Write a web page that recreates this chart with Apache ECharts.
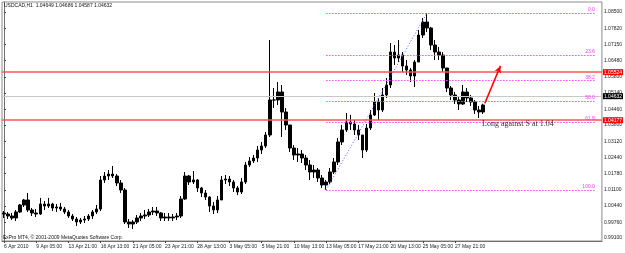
<!DOCTYPE html>
<html><head><meta charset="utf-8">
<script src="https://cdn.jsdelivr.net/npm/echarts@6/dist/echarts.min.js"></script>
<style>html,body{margin:0;padding:0;background:#fff}#c{width:625px;height:253px}</style>
</head><body><div id="c"></div>
<script>
// ---- data (8-hour aggregated USDCAD H1 bars) ----
const xTickLabels = ["6 Apr 2010","9 Apr 05:00","13 Apr 21:00","16 Apr 13:00","21 Apr 05:00","23 Apr 21:00","28 Apr 13:00","3 May 05:00","5 May 21:00","10 May 13:00","13 May 05:00","17 May 21:00","20 May 13:00","25 May 05:00","27 May 21:00"];
const yTickValues = [0.99100,0.99760,1.00440,1.01100,1.01780,1.02440,1.03120,1.03800,1.04460,1.05140,1.05800,1.06480,1.07150,1.07820,1.08500];
const firstOpen = 1.00140;
const highs = [1.00223,1.00182,1.00140,1.00265,1.00514,1.00723,1.00972,1.00348,1.00306,1.00764,
1.00639,1.00764,1.00556,1.00514,1.00556,1.00390,1.00265,1.00098,0.99974,0.99932,
1.00015,1.00098,1.00265,1.00473,1.01679,1.01846,1.01929,1.02095,1.01762,1.01513,
1.01180,0.99890,0.99849,1.00057,1.00140,1.00265,1.00306,1.00390,1.00390,1.00182,
1.00140,1.00140,1.00098,1.00140,1.00847,1.01846,1.01721,1.01887,1.01554,1.01222,
1.01097,1.00830,1.00598,1.00847,1.01679,1.01721,1.01679,1.01513,1.01263,1.01596,
1.02262,1.02470,1.02553,1.02927,1.03094,1.03510,1.07337,1.05340,1.05590,1.05465,
1.04508,1.03801,1.02969,1.02844,1.02761,1.02553,1.02345,1.02137,1.02012,1.01721,
1.01513,1.02012,1.02428,1.03260,1.03801,1.04300,1.04217,1.04009,1.03801,1.03385,
1.03842,1.04425,1.05132,1.04924,1.05340,1.05756,1.07212,1.07129,1.07337,1.06838,
1.06505,1.06172,1.06505,1.07753,1.08252,1.08450,1.07880,1.07337,1.07046,1.06838,
1.06172,1.05423,1.05174,1.05007,1.05465,1.05340,1.05049,1.04841,1.04591,1.04686];
const lows = [0.99932,0.99890,0.99849,0.99807,1.00140,1.00390,1.00182,1.00015,0.99974,1.00057,
1.00265,1.00348,1.00223,1.00182,1.00223,1.00098,0.99932,0.99807,0.99599,0.99682,
0.99724,0.99807,0.99890,1.00098,1.00223,1.01388,1.01513,1.01596,1.01263,1.00972,
0.99682,0.99516,0.99474,0.99682,0.99807,0.99890,0.99974,1.00057,1.00015,0.99807,
0.99807,0.99807,0.99807,0.99849,0.99932,1.00681,1.01305,1.01346,1.01014,1.00806,
1.00681,1.00182,1.00098,1.00140,1.00681,1.01346,1.01263,1.01014,1.00889,1.00930,
1.01346,1.02054,1.02220,1.02262,1.02594,1.02844,1.03300,1.04508,1.04633,1.03302,
1.03593,1.02678,1.02345,1.02262,1.02220,1.01929,1.01513,1.01596,1.01430,1.01180,
1.01100,1.01346,1.01762,1.02137,1.02969,1.03510,1.03593,1.03385,1.03177,1.02428,
1.02678,1.03593,1.04175,1.04009,1.04342,1.04924,1.05340,1.06297,1.06422,1.06006,
1.05881,1.05590,1.05382,1.06422,1.07420,1.07670,1.06921,1.06505,1.06505,1.06006,
1.05174,1.04841,1.04674,1.04425,1.04633,1.04758,1.04591,1.04259,1.04092,1.04259];
const closes = [1.00098,1.00015,0.99932,1.00182,1.00473,1.00681,1.00265,1.00140,1.00098,1.00514,
1.00431,1.00514,1.00348,1.00390,1.00306,1.00182,1.00015,0.99890,0.99766,0.99849,
0.99890,1.00015,1.00182,1.00306,1.01513,1.01679,1.01762,1.01679,1.01388,1.01097,
0.99766,0.99682,0.99766,0.99932,1.00015,1.00057,1.00182,1.00223,1.00140,0.99932,
0.99974,0.99932,0.99974,1.00015,1.00723,1.01679,1.01430,1.01513,1.01180,1.00972,
1.00806,1.00431,1.00265,1.00681,1.01513,1.01554,1.01430,1.01180,1.01014,1.01430,
1.02137,1.02303,1.02428,1.02761,1.02927,1.03385,1.04841,1.04841,1.05174,1.04342,
1.03801,1.02844,1.02553,1.02594,1.02428,1.02137,1.01846,1.01929,1.01596,1.01305,
1.01430,1.01846,1.02262,1.03094,1.03593,1.03926,1.03842,1.03593,1.03385,1.02761,
1.03676,1.04217,1.04758,1.04425,1.05049,1.05465,1.06838,1.06588,1.06713,1.06255,
1.06089,1.05839,1.06422,1.07545,1.08086,1.07836,1.07129,1.06838,1.06713,1.06172,
1.05340,1.05049,1.04841,1.04674,1.05174,1.04924,1.04758,1.04425,1.04342,1.04632];
const fibLevels = [1.08450,1.06715,1.05642,1.04775,1.03908,1.01100];
const fibNames = ["0.0","23.6","38.2","50.0","61.8","100.0"];
const redLevels = [1.05524,1.04177];
const bidLevel = 1.04632;
const fibLowBar = 80, fibHighBar = 105, fibEndBar = 147;
const arrowFrom = [119.4, 1.04700], arrowTo = [123.3, 1.06260];
const slotCount = 149;
const titleText = "USDCAD,H1  1.04649 1.04686 1.04587 1.04632";
const copyText = "FxPro MT4, \u00A9 2001-2009 MetaQuotes Software Corp.";
const noteText = "Long against S at 1.04";

// ---- build ----
const cats = [];
for (let i = 0; i < slotCount; i++) cats.push(String(i));
const candles = closes.map((c, i) => [i === 0 ? firstOpen : closes[i - 1], c, lows[i], highs[i]]);

const FONT = 'Liberation Sans';
const lines = [];
fibLevels.forEach((v, i) => {
  lines.push([
    {coord: [fibLowBar, v], lineStyle: {color: '#ff44ff', type: [1.5, 1.5], width: 1},
     label: {show: true, formatter: fibNames[i], position: 'insideEndTop', color: '#ff33ff', fontSize: 5, fontFamily: FONT, distance: 1}},
    {coord: [fibEndBar, v]}
  ]);
});
lines.push([
  {coord: [fibLowBar, fibLevels[5]], lineStyle: {color: '#5060ff', type: [1, 2], width: 1}, label: {show: false}},
  {coord: [fibHighBar, fibLevels[0]]}
]);
lines.push([
  {coord: arrowFrom, symbol: 'none', lineStyle: {color: '#ff0000', type: 'solid', width: 1.5}, label: {show: false}},
  {coord: arrowTo, symbol: 'arrow', symbolSize: [5, 7]}
]);

const hlines = [];
redLevels.forEach(v => hlines.push({yAxis: v, lineStyle: {color: '#ff5050', width: 1.5, type: 'solid'},
  label: {show: true, position: 'end', formatter: v.toFixed(5), backgroundColor: '#ff0000', color: '#fff', fontSize: 5, fontFamily: FONT, padding: [1, 1, 0, 1], distance: 1}}));
hlines.push({yAxis: bidLevel, lineStyle: {color: '#c8c8c8', width: 1, type: 'solid'},
  label: {show: true, position: 'end', formatter: bidLevel.toFixed(5), backgroundColor: '#000', color: '#fff', fontSize: 5, fontFamily: FONT, padding: [1, 1, 0, 1], distance: 1}});

const isLabelSlot = (i) => i % 8 === 0 && i / 8 < xTickLabels.length;

const chart = echarts.init(document.getElementById('c'), null, {renderer: 'canvas'});
chart.setOption({
  animation: false,
  backgroundColor: '#ffffff',
  grid: {left: 2, right: 19, top: 2, bottom: 12, show: true, borderColor: '#8c8c8c', borderWidth: 1, backgroundColor: '#fff'},
  xAxis: [{
    type: 'category', data: cats, boundaryGap: true,
    axisLine: {show: true, lineStyle: {color: '#707070'}},
    axisTick: {show: true, alignWithLabel: true, length: 2, interval: (i) => isLabelSlot(i), lineStyle: {color: '#444'}},
    axisLabel: {interval: (i) => isLabelSlot(i), formatter: (v, i) => xTickLabels[Math.round(Number(v) / 8)] || '',
      align: 'left', fontSize: 5, fontFamily: FONT, color: '#222', margin: 3},
    splitLine: {show: false}
  }, {
    type: 'value', min: -0.5, max: slotCount - 0.5, show: false
  }],
  yAxis: [{
    type: 'value', position: 'right', min: 0.98975, max: 1.08918, scale: true,
    axisLine: {show: true, lineStyle: {color: '#707070'}},
    axisTick: {show: true, length: 2, customValues: yTickValues, lineStyle: {color: '#444'}},
    axisLabel: {customValues: yTickValues, formatter: (v) => v.toFixed(5), fontSize: 5, fontFamily: FONT, color: '#222', margin: 2},
    splitLine: {show: false}
  }],
  graphic: [
    {type: 'text', left: 4, top: 3, style: {text: titleText, font: '5px "Liberation Sans"', fill: '#111'}, z: 100},
    {type: 'text', left: 3, top: 235, style: {text: copyText, font: '5px "Liberation Sans"', fill: '#111'}, z: 100},
    {type: 'text', left: 482, top: 120, style: {text: noteText, font: '8px "Liberation Serif"', fill: '#333'}, z: 100}
  ],
  series: [{
    type: 'line', xAxisIndex: 1, yAxisIndex: 0, data: [], silent: true, z: 1,
    markLine: {silent: true, symbol: ['none', 'none'], animation: false, data: hlines.concat(lines)}
  }, {
    type: 'candlestick', xAxisIndex: 0, yAxisIndex: 0, data: candles, barWidth: 3, z: 3,
    itemStyle: {color: '#000', color0: '#000', borderColor: '#000', borderColor0: '#000', borderWidth: 1}
  }]
});
</script></body></html>
